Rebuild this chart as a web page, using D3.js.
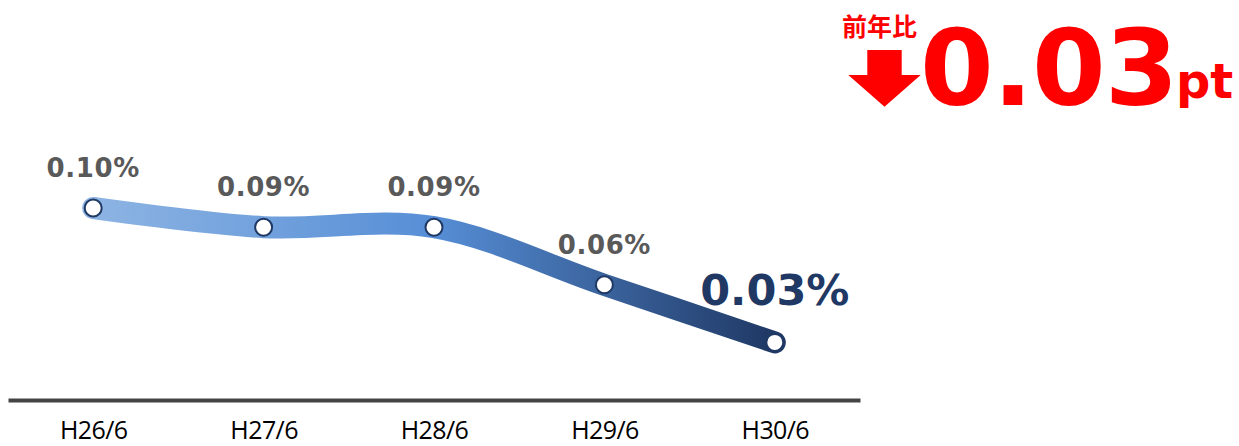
<!DOCTYPE html>
<html>
<head>
<meta charset="utf-8">
<script src="https://cdn.jsdelivr.net/npm/d3@7"></script>
<style>
  html, body { margin: 0; padding: 0; background: #fff; }
  svg { display: block; }
</style>
</head>
<body>
<svg id="chart" width="1239" height="446"></svg>
<script>
const categories = ["H26/6", "H27/6", "H28/6", "H29/6", "H30/6"];
const rates = [0.10, 0.09, 0.09, 0.06, 0.03];
const changeLabel = "前年比";
const changeUnit = "pt";

const svg = d3.select("#chart");
const x = d3.scalePoint().domain(categories).range([8, 860]).padding(0.5);
const y = d3.scaleLinear().domain([0, 0.10]).range([400, 208]);

// gradient
const defs = svg.append("defs");
const grad = defs.append("linearGradient")
  .attr("id", "lineGrad")
  .attr("gradientUnits", "userSpaceOnUse")
  .attr("x1", x(categories[0])).attr("x2", x(categories[categories.length - 1]))
  .attr("y1", 0).attr("y2", 0);
grad.append("stop").attr("offset", "0%").attr("stop-color", "#8db4e3");
grad.append("stop").attr("offset", "50%").attr("stop-color", "#568ed6");
grad.append("stop").attr("offset", "100%").attr("stop-color", "#1f3864");

// axis
const axis = d3.axisBottom(x).tickSize(0).tickSizeOuter(0);
const gx = svg.append("g").attr("transform", "translate(0,400)").call(axis);
gx.select(".domain").attr("stroke", "#444444").attr("stroke-width", 4);
gx.selectAll("text")
  .attr("y", 39).attr("dy", 0)
  .attr("fill", "#000")
  .style("font-family", "'Open Sans', 'Noto Sans', sans-serif")
  .style("font-size", "25px")
  .style("letter-spacing", "-0.6px");

// line
const data = categories.map((c, i) => ({ c, v: rates[i] }));
const line = d3.line()
  .x(d => x(d.c))
  .y(d => y(d.v))
  .curve(d3.curveCatmullRom.alpha(0));
svg.append("path")
  .datum(data)
  .attr("d", line)
  .attr("fill", "none")
  .attr("stroke", "url(#lineGrad)")
  .attr("stroke-width", 22)
  .attr("stroke-linecap", "round")
  .attr("stroke-linejoin", "round");

// markers
svg.selectAll("circle.pt")
  .data(data)
  .join("circle")
  .attr("class", "pt")
  .attr("cx", d => x(d.c))
  .attr("cy", d => y(d.v))
  .attr("r", 8.5)
  .attr("fill", "#fff")
  .attr("stroke", "#1f3864")
  .attr("stroke-width", 2);

// value labels
const last = data.length - 1;
svg.selectAll("text.val")
  .data(data)
  .join("text")
  .attr("class", "val")
  .attr("x", d => x(d.c))
  .attr("y", (d, i) => y(d.v) - (i === last ? 37 : 31))
  .attr("text-anchor", "middle")
  .attr("fill", (d, i) => i === last ? "#1f3864" : "#595959")
  .style("font-family", "'DejaVu Sans', Verdana, sans-serif")
  .style("font-weight", "bold")
  .style("font-size", (d, i) => i === last ? "43px" : "26px")
  .style("letter-spacing", (d, i) => i === last ? "0px" : "0.6px")
  .text(d => d.v.toFixed(2) + "%");

// headline: year-over-year change
const diff = (rates[last - 1] - rates[last]).toFixed(2);
svg.append("text")
  .attr("x", 842).attr("y", 36)
  .attr("fill", "#ff0000")
  .style("font-family", "'Noto Sans CJK JP', sans-serif")
  .style("font-weight", "bold")
  .style("font-size", "25px")
  .text(changeLabel);

svg.append("path")
  .attr("d", "M867.3,50 L901.7,50 L901.7,75 L920.7,75 L884.5,106.7 L848.3,75 L867.3,75 Z")
  .attr("fill", "#ff0000");

svg.append("text")
  .attr("x", 920).attr("y", 105)
  .attr("fill", "#ff0000")
  .style("font-family", "'DejaVu Sans', Verdana, sans-serif")
  .style("font-weight", "bold")
  .style("font-size", "106px")
  .style("letter-spacing", "-1px")
  .text(diff);

svg.append("text")
  .attr("x", 1176).attr("y", 98)
  .attr("fill", "#ff0000")
  .style("font-family", "'DejaVu Sans', Verdana, sans-serif")
  .style("font-weight", "bold")
  .style("font-size", "48px")
  .text(changeUnit);
</script>
</body>
</html>
